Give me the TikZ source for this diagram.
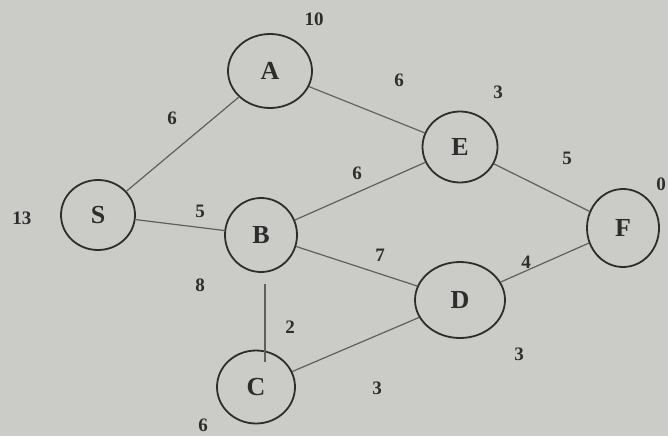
\documentclass[tikz,border=0pt]{standalone}
\usepackage{fontspec}
\setmainfont{Liberation Serif}
\usetikzlibrary{shapes.geometric}
\definecolor{paper}{RGB}{203,203,200}
\definecolor{ink}{RGB}{45,45,45}
\definecolor{edgec}{RGB}{95,95,95}
\tikzset{
  vtx/.style={draw=ink, line width=1.8pt, ellipse, inner sep=0pt, font=\fontsize{26}{28}\selectfont\bfseries, text=ink},
  edg/.style={draw=edgec, line width=1.2pt},
  wt/.style={font=\fontsize{19}{21}\selectfont\bfseries, text=ink, inner sep=0pt}
}
\begin{document}
\begin{tikzpicture}[x=1pt,y=-1pt]
\fill[paper] (0,0) rectangle (668,436);
\useasboundingbox (0,0) rectangle (668,436);
% vertices
\node[vtx, minimum width=84pt, minimum height=74pt] (A) at (270,71) {A};
\node[vtx, minimum width=75pt, minimum height=71pt] (E) at (460,147) {E};
\node[vtx, minimum width=74pt, minimum height=70pt] (S) at (98,215) {S};
\node[vtx, minimum width=72pt, minimum height=74pt] (B) at (261,235) {B};
\node[vtx, minimum width=72pt, minimum height=78pt] (F) at (623,228) {F};
\node[vtx, minimum width=90pt, minimum height=76pt] (D) at (460,300) {D};
\node[vtx, minimum width=78pt, minimum height=73pt] (C) at (256,387) {C};
% edges
\draw[edg] (S) -- (A);
\draw[edg] (A) -- (E);
\draw[edg] (S) -- (B);
\draw[edg] (B) -- (E);
\draw[edg] (B) -- (D);
\draw[edg] ([xshift=4pt,yshift=-11pt]B.south) -- ([xshift=9pt,yshift=25pt]C.center);
\draw[edg] (C) -- (D);
\draw[edg] (E) -- (F);
\draw[edg] (D) -- (F);
% edge weights
\node[wt] (wSA) at (172,118) {6};
\node[wt] (wAE) at (399,80) {6};
\node[wt] (wBE) at (357,173) {6};
\node[wt] (wSB) at (200,211) {5};
\node[wt] (wBD) at (380,255) {7};
\node[wt] (wBC) at (290,327) {2};
\node[wt] (wCD) at (377,388) {3};
\node[wt] (wEF) at (567,158) {5};
\node[wt] (wDF) at (526,262) {4};
% heuristic values
\node[wt] (hA) at (314,19) {10};
\node[wt] (hE) at (498,92) {3};
\node[wt] (hS) at (22,218) {13};
\node[wt] (hB) at (200,285) {8};
\node[wt] (hF) at (661,184) {0};
\node[wt] (hD) at (519,354) {3};
\node[wt] (hC) at (203,425) {6};
\end{tikzpicture}
\end{document}
